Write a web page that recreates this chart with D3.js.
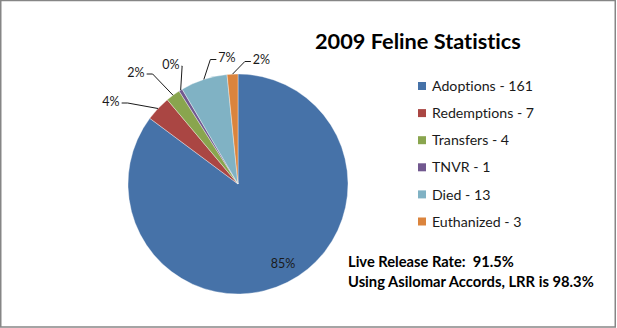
<!DOCTYPE html>
<html>
<head>
<meta charset="utf-8">
<script src="https://cdn.jsdelivr.net/npm/d3@7"></script>
<style>
  html, body { margin: 0; padding: 0; background: #fff; }
  svg { display: block; font-family: Lato, "Open Sans", "DejaVu Sans", sans-serif; font-variant-ligatures: none; }
</style>
</head>
<body>
<svg id="chart" width="617" height="328"></svg>
<script>
// Shelter outcomes for cats, 2009
const categories = ["Adoptions", "Redemptions", "Transfers", "TNVR", "Died", "Euthanized"];
const counts = [161, 7, 4, 1, 13, 3];
const percentLabels = ["85%", "4%", "2%", "0%", "7%", "2%"];
const colors = ["#4672A8", "#AA4643", "#89A54E", "#71588F", "#80B2C4", "#DB843D"];
const titleText = "2009 Feline Statistics";
const notes = ["Live Release Rate:  91.5%", "Using Asilomar Accords, LRR is 98.3%"];

// Label centres relative to the pie centre (outer labels sit above-left of the pie)
const labelOffsets = [[45, 79], [-127, -83], [-102, -112], [-67, -120], [-11, -126.5], [23.5, -124.5]];

const W = 617, H = 328;
const cx = 238, cy = 184, r = 110;

const svg = d3.select("#chart");

// outer frame
svg.append("rect")
  .attr("x", 0.75).attr("y", 0.5)
  .attr("width", W - 2.5).attr("height", H - 1.5)
  .attr("fill", "#fff").attr("stroke", "#868686").attr("stroke-width", 1.5);

// fit a text element to a target width by adjusting its font size
function fitWidth(sel, target) {
  const n = sel.node();
  const fs = parseFloat(sel.attr("font-size"));
  const w = n.getComputedTextLength();
  if (w > 0) sel.attr("font-size", (fs * target / w).toFixed(2));
}

const pie = d3.pie().sort(null).value(d => d).startAngle(0).endAngle(2 * Math.PI);
const arcs = pie(counts);
const arc = d3.arc().innerRadius(0).outerRadius(r);

const g = svg.append("g").attr("transform", `translate(${cx},${cy})`);

g.selectAll("path.slice")
  .data(arcs)
  .enter().append("path")
  .attr("class", "slice")
  .attr("d", arc)
  .attr("fill", (d, i) => colors[i])
  .attr("stroke", "#ffffff")
  .attr("stroke-opacity", 0.6)
  .attr("stroke-width", 0.6);

// percentage labels
const labels = g.selectAll("text.pct")
  .data(arcs)
  .enter().append("text")
  .attr("class", "pct")
  .attr("x", (d, i) => labelOffsets[i][0])
  .attr("y", (d, i) => labelOffsets[i][1])
  .attr("dy", "0.36em")
  .attr("text-anchor", "middle")
  .attr("font-size", 12.5)
  .attr("fill", "#1a1a1a")
  .text((d, i) => percentLabels[i]);

// leader lines for the labels outside the pie
labels.each(function (d, i) {
  const mid = (d.startAngle + d.endAngle) / 2;
  const px = r * Math.sin(mid), py = -r * Math.cos(mid);
  if (Math.hypot(labelOffsets[i][0], labelOffsets[i][1]) < r) return;
  const bb = this.getBBox();
  const lx = labelOffsets[i][0], ly = labelOffsets[i][1] + 2;
  const fromRight = lx < px;
  const sx = fromRight ? bb.x + bb.width + 2 : bb.x - 2;
  const dir = fromRight ? 1 : -1;
  const ex = sx + dir * Math.min(6, Math.abs(px - sx) * 0.5);
  g.append("path")
    .attr("d", d3.line()([[sx, ly], [ex, ly], [px, py]]))
    .attr("fill", "none")
    .attr("stroke", "#1a1a1a")
    .attr("stroke-width", 1);
});

// title
const title = svg.append("text")
  .attr("x", 315).attr("y", 49)
  .attr("font-size", 21).attr("font-weight", "bold")
  .attr("fill", "#000")
  .text(titleText);
fitWidth(title, 206);

// legend
const legend = svg.append("g").attr("transform", "translate(418,82)");
const rowH = 27.1;
const items = legend.selectAll("g.item")
  .data(categories)
  .enter().append("g")
  .attr("class", "item")
  .attr("transform", (d, i) => `translate(0,${i * rowH})`);
items.append("rect")
  .attr("width", 8).attr("height", 8)
  .attr("fill", (d, i) => colors[i]);
const legTexts = items.append("text")
  .attr("x", 14).attr("y", 4)
  .attr("dy", "0.36em")
  .attr("font-size", 14)
  .attr("fill", "#1a1a1a")
  .text((d, i) => `${d} - ${counts[i]}`);
// scale legend font so the first entry spans its measured width
{
  const w = legTexts.node().getComputedTextLength();
  const fs = (14 * 101 / w).toFixed(2);
  legTexts.attr("font-size", fs);
}

// notes under the legend
const n1 = svg.append("text")
  .attr("x", 348).attr("y", 267)
  .attr("font-size", 13).attr("font-weight", "bold")
  .attr("fill", "#000")
  .attr("xml:space", "preserve")
  .style("white-space", "pre")
  .text(notes[0]);
fitWidth(n1, 166);
const n2 = svg.append("text")
  .attr("x", 348).attr("y", 287)
  .attr("font-size", 13).attr("font-weight", "bold")
  .attr("fill", "#000")
  .text(notes[1]);
fitWidth(n2, 246);
</script>
</body>
</html>
